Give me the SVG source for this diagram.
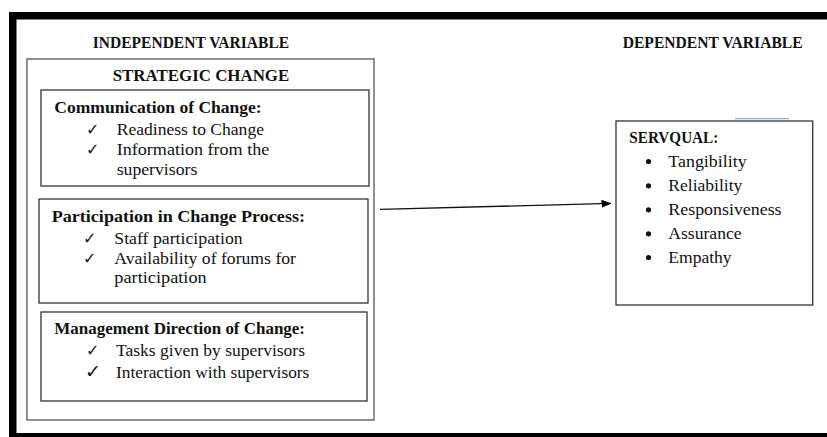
<svg xmlns="http://www.w3.org/2000/svg" width="827" height="437" viewBox="0 0 827 437">
<style>
.h{font-family:"Liberation Serif","Times New Roman",serif;font-weight:bold;font-size:17.5px;fill:#111}
.t{font-family:"Liberation Serif","Times New Roman",serif;font-size:17px;fill:#111}
.ck{font-family:"DejaVu Sans",sans-serif;font-size:16px;fill:#111}
.box{fill:#fff;stroke:#333;stroke-width:1.3}
.outer{fill:#fff;stroke:#555;stroke-width:1.3}
</style>
<defs>
<marker id="ah" markerWidth="10" markerHeight="8" refX="9.5" refY="4" orient="auto" markerUnits="userSpaceOnUse">
<path d="M0,0 L10,4 L0,8 Z" fill="#000"/>
</marker>
</defs>
<rect width="827" height="437" fill="#fff"/>
<g id="frame">
<rect x="9" y="12" width="818" height="7.5" fill="#000"/>
<rect x="9" y="12" width="7.5" height="425" fill="#000"/>
<rect x="9" y="433" width="818" height="4" fill="#000"/>
</g>
<g id="labels">
<text class="h" x="92.7" y="48" textLength="196.5" lengthAdjust="spacingAndGlyphs">INDEPENDENT VARIABLE</text>
<text class="h" x="622.7" y="48.3" textLength="180" lengthAdjust="spacingAndGlyphs">DEPENDENT VARIABLE</text>
</g>
<g id="strategic-change">
<rect class="outer" x="27" y="59" width="347" height="361"/>
<text class="h" x="112.7" y="81.3" textLength="176.6" lengthAdjust="spacingAndGlyphs">STRATEGIC  CHANGE</text>
</g>
<g id="communication">
<rect class="box" x="41" y="90" width="328" height="96"/>
<text class="h" x="54.3" y="113" textLength="207.4" lengthAdjust="spacingAndGlyphs">Communication of Change:</text>
<text class="ck" x="86" y="135">✓</text>
<text class="t" x="116.7" y="135" textLength="147.3" lengthAdjust="spacingAndGlyphs">Readiness to Change</text>
<text class="ck" x="86" y="155">✓</text>
<text class="t" x="116.7" y="155" textLength="152.6" lengthAdjust="spacingAndGlyphs">Information from the</text>
<text class="t" x="116.7" y="175" textLength="80.6" lengthAdjust="spacingAndGlyphs">supervisors</text>
</g>
<g id="participation">
<rect class="box" x="39" y="199" width="329" height="104"/>
<text class="h" x="51.7" y="222.3" textLength="253.3" lengthAdjust="spacingAndGlyphs">Participation in Change Process:</text>
<text class="ck" x="83" y="244">✓</text>
<text class="t" x="114.3" y="244" textLength="128.4" lengthAdjust="spacingAndGlyphs">Staff participation</text>
<text class="ck" x="83" y="264">✓</text>
<text class="t" x="114.3" y="264" textLength="181.7" lengthAdjust="spacingAndGlyphs">Availability of forums for</text>
<text class="t" x="114.3" y="283.3" textLength="92.4" lengthAdjust="spacingAndGlyphs">participation</text>
</g>
<g id="management">
<rect class="box" x="41" y="312" width="326" height="89"/>
<text class="h" x="54.3" y="334" textLength="250.7" lengthAdjust="spacingAndGlyphs">Management Direction of Change:</text>
<text class="ck" x="86" y="356">✓</text>
<text class="t" x="116" y="356" textLength="189" lengthAdjust="spacingAndGlyphs">Tasks given by supervisors</text>
<text class="ck" x="85" y="377.5" style="font-size:19px;font-weight:bold">✓</text>
<text class="t" x="116" y="377.7" textLength="193.3" lengthAdjust="spacingAndGlyphs">Interaction with supervisors</text>
</g>
<g id="servqual">
<line x1="735" y1="118.7" x2="789" y2="118.7" stroke="#8faad8" stroke-width="1.2"/>
<rect class="box" x="616" y="121" width="196.7" height="184"/>
<text class="h" x="629.3" y="143.3" textLength="89" lengthAdjust="spacingAndGlyphs">SERVQUAL:</text>
<circle cx="648.5" cy="161.5" r="2.6" fill="#111"/>
<text class="t" x="668.3" y="166.7" textLength="78.3" lengthAdjust="spacingAndGlyphs">Tangibility</text>
<circle cx="648.5" cy="185.8" r="2.6" fill="#111"/>
<text class="t" x="668.3" y="191" textLength="74" lengthAdjust="spacingAndGlyphs">Reliability</text>
<circle cx="648.5" cy="209.8" r="2.6" fill="#111"/>
<text class="t" x="668.3" y="215" textLength="113.3" lengthAdjust="spacingAndGlyphs">Responsiveness</text>
<circle cx="648.5" cy="233.8" r="2.6" fill="#111"/>
<text class="t" x="668.3" y="239" textLength="73.3" lengthAdjust="spacingAndGlyphs">Assurance</text>
<circle cx="648.5" cy="257.5" r="2.6" fill="#111"/>
<text class="t" x="668.3" y="262.7" textLength="63.3" lengthAdjust="spacingAndGlyphs">Empathy</text>
</g>
<g id="connectors">
<line x1="380" y1="209.4" x2="611" y2="203.4" stroke="#111" stroke-width="1.3" marker-end="url(#ah)"/>
</g>
</svg>
